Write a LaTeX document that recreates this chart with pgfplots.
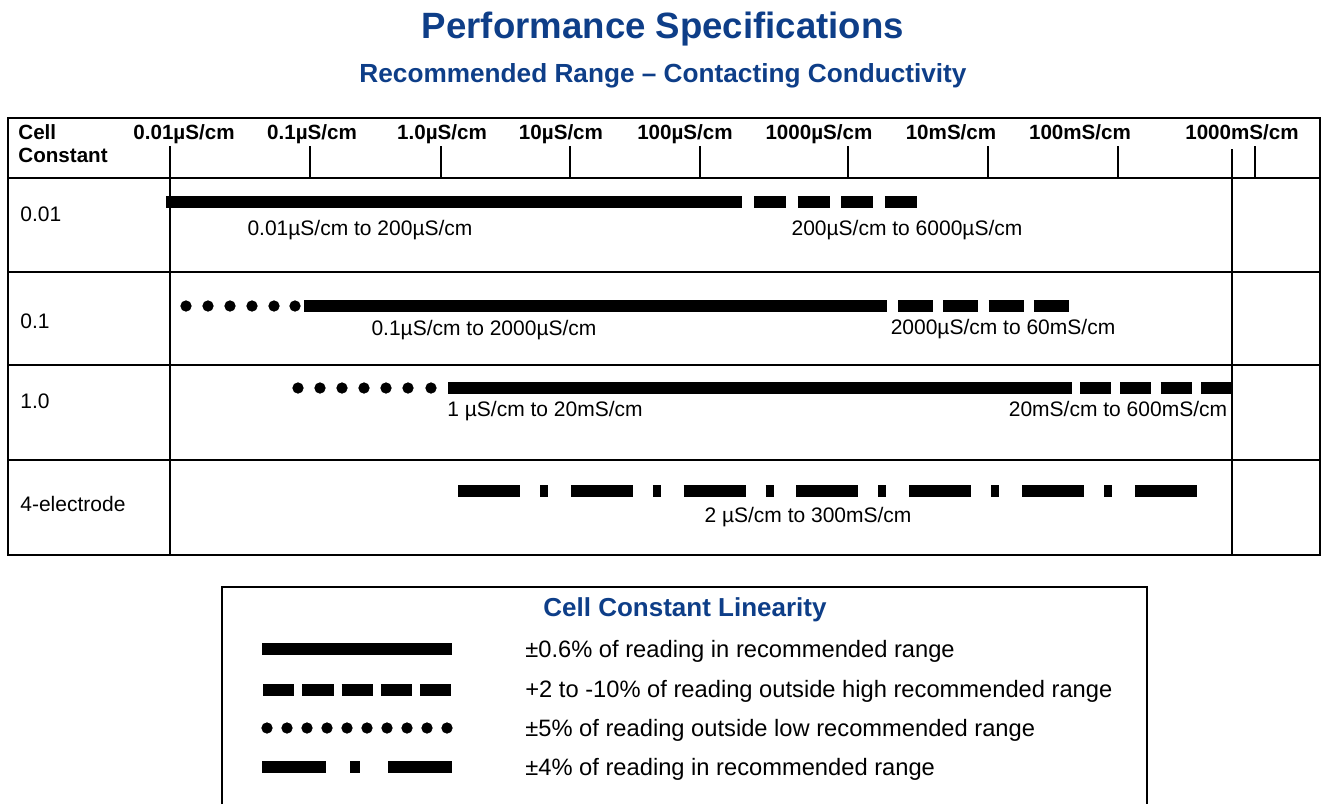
\documentclass[border=0pt]{standalone}
\usepackage{fontspec}
\setmainfont{Liberation Sans}
\usepackage{pgfplots}
\pgfplotsset{compat=1.18}
\definecolor{specblue}{RGB}{14,62,136}

% one axis unit = one pixel of the 1327x804 layout (0.5pt each)
\tikzset{
  rule/.style={line width=1.3pt, line cap=rect},
  bar/.style={line width=6pt, line cap=butt, black},
  dot/.style={only marks, mark=*, mark size=2.6pt, black},
  lbl/.style={font=\fontsize{10.5pt}{12pt}\selectfont, anchor=base, inner sep=0pt},
  hdr/.style={font=\bfseries\fontsize{10.3pt}{12pt}\selectfont, anchor=base, inner sep=0pt},
  leg/.style={font=\fontsize{11.85pt}{14pt}\selectfont, anchor=base west, inner sep=0pt},
}

\begin{document}
\begin{tikzpicture}
\begin{axis}[
    name=ax,
    scale only axis,
    width=663.5pt, height=402pt,
    xmin=0, xmax=1327, ymin=0, ymax=804,
    y dir=reverse,
    hide axis,
    clip=false
]
    % titles
    \node[anchor=base, inner sep=0pt, text=specblue, font=\bfseries\fontsize{18.3pt}{20pt}\selectfont]
        at (axis cs:663,38) {Performance Specifications};
    \node[anchor=base, inner sep=0pt, text=specblue, font=\bfseries\fontsize{13.1pt}{15pt}\selectfont]
        at (axis cs:663,82) {Recommended Range – Contacting Conductivity};

    % table frame
    \draw[rule] (axis cs:8,118) rectangle (axis cs:1320,555);
    \draw[rule] (axis cs:8,178) -- (axis cs:1320,178);
    \draw[rule] (axis cs:8,272) -- (axis cs:1320,272);
    \draw[rule] (axis cs:8,365) -- (axis cs:1320,365);
    \draw[rule] (axis cs:8,460) -- (axis cs:1320,460);
    \draw[rule] (axis cs:170,147) -- (axis cs:170,555);
    \draw[rule] (axis cs:1232,150) -- (axis cs:1232,555);
    \pgfplotsinvokeforeach{310,441,570,700,848,988,1118,1255}{
        \draw[rule] (axis cs:#1,147) -- (axis cs:#1,178);
    }

    % header
    \node[hdr, anchor=base west] at (axis cs:18,139) {Cell};
    \node[hdr, anchor=base west] at (axis cs:18,162) {Constant};
    \node[hdr] at (axis cs:184,139) {0.01µS/cm};
    \node[hdr] at (axis cs:312,139) {0.1µS/cm};
    \node[hdr] at (axis cs:442,139) {1.0µS/cm};
    \node[hdr] at (axis cs:561,139) {10µS/cm};
    \node[hdr] at (axis cs:685,139) {100µS/cm};
    \node[hdr] at (axis cs:819,139) {1000µS/cm};
    \node[hdr] at (axis cs:951,139) {10mS/cm};
    \node[hdr] at (axis cs:1080,139) {100mS/cm};
    \node[hdr] at (axis cs:1242,139) {1000mS/cm};

    % row labels
    \node[lbl, anchor=base west] at (axis cs:20,221) {0.01};
    \node[lbl, anchor=base west] at (axis cs:20,328) {0.1};
    \node[lbl, anchor=base west] at (axis cs:20,408) {1.0};
    \node[lbl, anchor=base west] at (axis cs:20,511) {4-electrode};

    % row 0.01
    \addplot[bar] coordinates {(166,202) (742,202)};
    \addplot[bar, dash pattern=on 16pt off 5.83pt] coordinates {(754,202) (917,202)};
    \node[lbl] at (axis cs:360,235) {0.01µS/cm to 200µS/cm};
    \node[lbl] at (axis cs:907,235) {200µS/cm to 6000µS/cm};

    % row 0.1
    \addplot[dot] coordinates {(186,306) (208,306) (230,306) (252,306) (274,306) (295,306)};
    \addplot[bar] coordinates {(304,306) (887,306)};
    \addplot[bar, dash pattern=on 17.5pt off 5.15pt] coordinates {(898,306) (1070,306)};
    \node[lbl] at (axis cs:484,335) {0.1µS/cm to 2000µS/cm};
    \node[lbl] at (axis cs:1003,334) {2000µS/cm to 60mS/cm};

    % row 1.0
    \addplot[dot] coordinates {(298,388) (320,388) (342,388) (364,388) (386,388) (408,388) (431,388)};
    \addplot[bar] coordinates {(448,388) (1072,388)};
    \addplot[bar, dash pattern=on 15.5pt off 4.67pt] coordinates {(1080,388) (1232,388)};
    \node[lbl] at (axis cs:545,416) {1 µS/cm to 20mS/cm};
    \node[lbl] at (axis cs:1118,416) {20mS/cm to 600mS/cm};

    % row 4-electrode
    \addplot[bar, dash pattern=on 31pt off 10pt on 4pt off 11.4pt] coordinates {(458,491) (1197,491)};
    \node[lbl] at (axis cs:808,522) {2 µS/cm to 300mS/cm};

    % legend box
    \draw[rule, line cap=butt] (axis cs:222,804) -- (axis cs:222,587) -- (axis cs:1147,587) -- (axis cs:1147,804);
    \node[anchor=base, inner sep=0pt, text=specblue, font=\bfseries\fontsize{13pt}{15pt}\selectfont]
        at (axis cs:685,616) {Cell Constant Linearity};

    \addplot[bar] coordinates {(262,649) (452,649)};
    \addplot[bar, dash pattern=on 15.6pt off 4.05pt] coordinates {(263,690) (452,690)};
    \addplot[dot] coordinates {(267,728) (287,728) (307,728) (327,728) (347,728) (367,728) (387,728) (407,728) (427,728) (447,728)};
    \addplot[bar, dash pattern=on 32pt off 12pt on 5pt off 14pt] coordinates {(262,767) (452,767)};

    \node[leg] at (axis cs:525,657) {±0.6\% of reading in recommended range};
    \node[leg] at (axis cs:525,697) {+2 to -10\% of reading outside high recommended range};
    \node[leg] at (axis cs:525,736) {±5\% of reading outside low recommended range};
    \node[leg] at (axis cs:525,775) {±4\% of reading in recommended range};
\end{axis}
\pgfresetboundingbox
\path (ax.south west) rectangle (ax.north east);
\end{tikzpicture}
\end{document}
